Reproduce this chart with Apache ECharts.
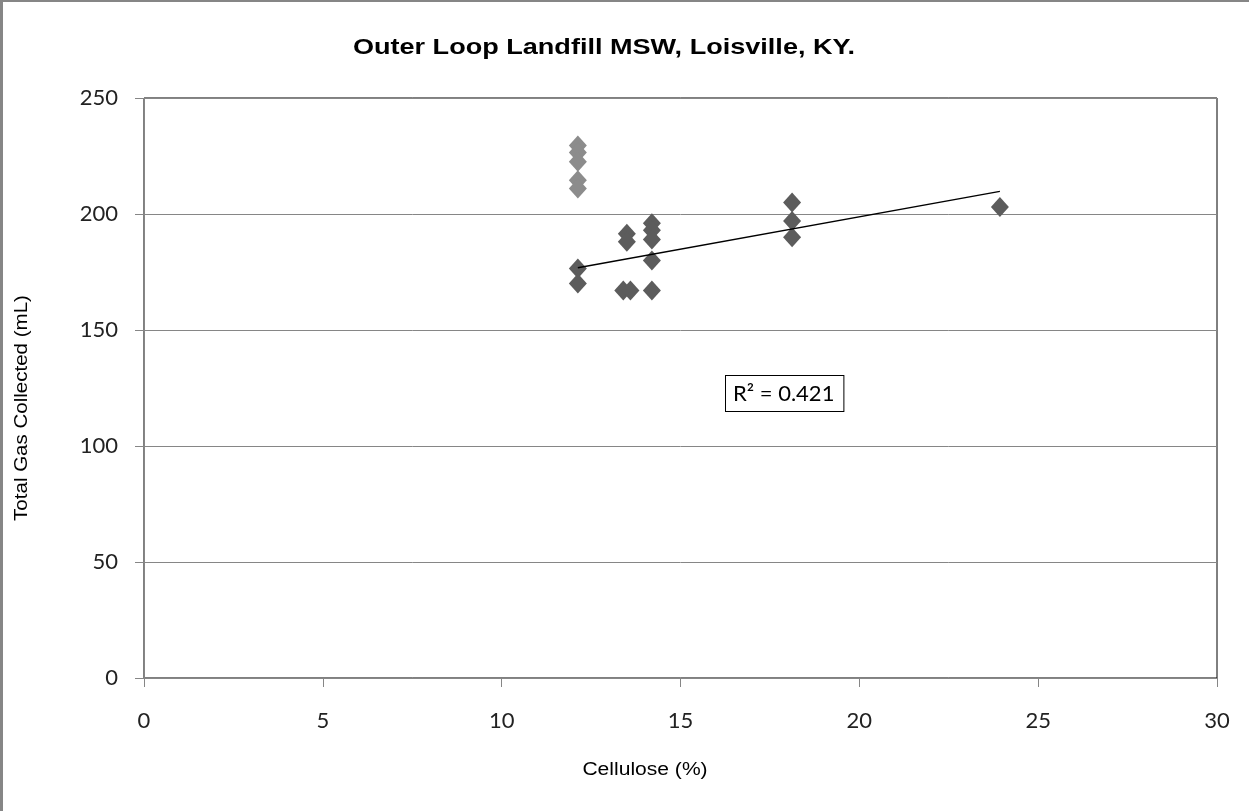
<!DOCTYPE html>
<html>
<head>
<meta charset="utf-8">
<title>Outer Loop Landfill MSW</title>
<script src="https://cdn.jsdelivr.net/npm/echarts@6/dist/echarts.min.js"></script>
<style>
  html, body { margin: 0; padding: 0; background: #fff; }
  #chart { width: 1249px; height: 811px; }
</style>
</head>
<body>
<div id="chart"></div>
<script>
// Samples with elevated gas yield (lighter markers)
const highCellulose = [12.13, 12.13, 12.13, 12.13, 12.13];
const highGas = [229.5, 226.5, 222.5, 214.5, 211];

// Main samples, used for the linear trend
const mainCellulose = [12.13, 12.13, 13.4, 13.6, 13.5, 13.5, 14.2, 14.2, 14.2, 14.2, 14.2, 18.12, 18.12, 18.12, 23.93];
const mainGas = [176.5, 170, 167, 167, 191.5, 188, 196, 193, 189, 180, 167, 205, 197, 190, 203];

const xTicks = [0, 5, 10, 15, 20, 25, 30];
const yTicks = [0, 50, 100, 150, 200, 250];
const titleText = 'Outer Loop Landfill MSW, Loisville, KY.';
const xName = 'Cellulose (%)';
const yName = 'Total Gas Collected (mL)';
const rSquaredText = 'R² = 0.421';

// Least-squares fit of the main samples, drawn across their x range
function linearFit(xs, ys) {
  const n = xs.length;
  const mx = xs.reduce((a, b) => a + b, 0) / n;
  const my = ys.reduce((a, b) => a + b, 0) / n;
  let sxy = 0, sxx = 0;
  for (let i = 0; i < n; i++) {
    sxy += (xs[i] - mx) * (ys[i] - my);
    sxx += (xs[i] - mx) * (xs[i] - mx);
  }
  const slope = sxy / sxx;
  return { slope, intercept: my - slope * mx };
}
const fit = linearFit(mainCellulose, mainGas);
const xMin = Math.min(...mainCellulose), xMax = Math.max(...mainCellulose);
const trend = [[xMin, fit.intercept + fit.slope * xMin], [xMax, fit.intercept + fit.slope * xMax]];

const pairs = (xs, ys) => xs.map((x, i) => [x, ys[i]]);

const tickFont = 'Lato, "Open Sans", sans-serif';
const sansFont = '"Liberation Sans", Arial, sans-serif';
const chart = echarts.init(document.getElementById('chart'), null, { renderer: 'canvas' });
chart.setOption({
  animation: false,
  backgroundColor: '#ffffff',
  grid: {
    left: 144, top: 98, right: 32, bottom: 133,
    show: true, borderColor: '#000', borderWidth: 1, backgroundColor: '#fff'
  },
  xAxis: {
    type: 'value', min: xTicks[0], max: xTicks[xTicks.length - 1], interval: 5,
    axisLine: { show: true, lineStyle: { color: '#868686', width: 1 } },
    axisTick: { show: true, inside: false, length: 9, lineStyle: { color: '#868686' } },
    axisLabel: { margin: 32, fontFamily: tickFont, fontSize: 22, color: '#222' },
    splitLine: { show: false }
  },
  yAxis: {
    type: 'value', min: yTicks[0], max: yTicks[yTicks.length - 1], interval: 50,
    axisLine: { show: true, lineStyle: { color: '#868686', width: 1 } },
    axisTick: { show: true, inside: false, length: 9, lineStyle: { color: '#868686' } },
    axisLabel: { margin: 26, fontFamily: tickFont, fontSize: 22, color: '#222' },
    splitLine: { show: true, lineStyle: { color: '#868686', width: 1 } }
  },
  series: [
    {
      name: 'high', type: 'scatter', symbol: 'diamond', symbolSize: [18, 20],
      itemStyle: { color: '#8c8c8c', opacity: 1 },
      data: pairs(highCellulose, highGas), z: 3
    },
    {
      name: 'main', type: 'scatter', symbol: 'diamond', symbolSize: [18, 20],
      itemStyle: { color: '#5c5c5c', opacity: 1 },
      data: pairs(mainCellulose, mainGas), z: 3
    },
    {
      name: 'trend', type: 'line', data: trend, symbol: 'none',
      lineStyle: { color: '#000', width: 1.5 }, z: 4, silent: true
    }
  ],
  graphic: [
    { type: 'rect', left: 0, top: 0, shape: { width: 3, height: 811 }, style: { fill: '#868686' } },
    { type: 'rect', left: 0, top: 0, shape: { width: 1249, height: 2 }, style: { fill: '#868686' } },
    {
      type: 'text', x: 604, y: 48, scaleX: 1.23,
      style: { text: titleText, fontFamily: sansFont, fontWeight: 'bold', fontSize: 22, fill: '#000',
               align: 'center', verticalAlign: 'middle' }
    },
    {
      type: 'text', x: 645, y: 770, scaleX: 1.17,
      style: { text: xName, fontFamily: sansFont, fontSize: 18, fill: '#000',
               align: 'center', verticalAlign: 'middle' }
    },
    {
      type: 'text', x: 22, y: 408, rotation: Math.PI / 2, scaleX: 1.14,
      style: { text: yName, fontFamily: sansFont, fontSize: 18, fill: '#000',
               align: 'center', verticalAlign: 'middle' }
    },
    {
      type: 'text', left: 725, top: 375, z: 10,
      style: {
        text: rSquaredText, fontFamily: tickFont, fontSize: 22, fill: '#000',
        backgroundColor: '#fff', borderColor: '#000', borderWidth: 1,
        padding: [7, 9, 6, 7]
      }
    }
  ]
});
</script>
</body>
</html>
